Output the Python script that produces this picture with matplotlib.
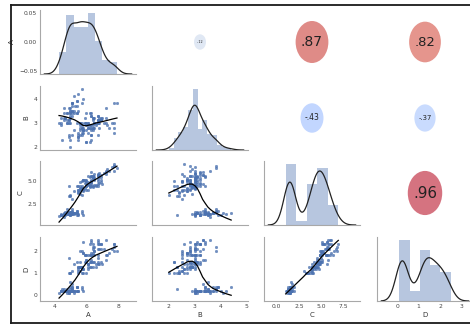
import numpy as np
import matplotlib
matplotlib.use("Agg")
import matplotlib.pyplot as plt
from matplotlib.patches import Ellipse
from matplotlib.lines import Line2D

# ---- data (four measured variables, 150 observations) ----
A = [5.1,4.9,4.7,4.6,5.0,5.4,4.6,5.0,4.4,4.9,5.4,4.8,4.8,4.3,5.8,5.7,5.4,5.1,5.7,5.1,
     5.4,5.1,4.6,5.1,4.8,5.0,5.0,5.2,5.2,4.7,4.8,5.4,5.2,5.5,4.9,5.0,5.5,4.9,4.4,5.1,
     5.0,4.5,4.4,5.0,5.1,4.8,5.1,4.6,5.3,5.0,
     7.0,6.4,6.9,5.5,6.5,5.7,6.3,4.9,6.6,5.2,5.0,5.9,6.0,6.1,5.6,6.7,5.6,5.8,6.2,5.6,
     5.9,6.1,6.3,6.1,6.4,6.6,6.8,6.7,6.0,5.7,5.5,5.5,5.8,6.0,5.4,6.0,6.7,6.3,5.6,5.5,
     5.5,6.1,5.8,5.0,5.6,5.7,5.7,6.2,5.1,5.7,
     6.3,5.8,7.1,6.3,6.5,7.6,4.9,7.3,6.7,7.2,6.5,6.4,6.8,5.7,5.8,6.4,6.5,7.7,7.7,6.0,
     6.9,5.6,7.7,6.3,6.7,7.2,6.2,6.1,6.4,7.2,7.4,7.9,6.4,6.3,6.1,7.7,6.3,6.4,6.0,6.9,
     6.7,6.9,5.8,6.8,6.7,6.7,6.3,6.5,6.2,5.9]
B = [3.5,3.0,3.2,3.1,3.6,3.9,3.4,3.4,2.9,3.1,3.7,3.4,3.0,3.0,4.0,4.4,3.9,3.5,3.8,3.8,
     3.4,3.7,3.6,3.3,3.4,3.0,3.4,3.5,3.4,3.2,3.1,3.4,4.1,4.2,3.1,3.2,3.5,3.6,3.0,3.4,
     3.5,2.3,3.2,3.5,3.8,3.0,3.8,3.2,3.7,3.3,
     3.2,3.2,3.1,2.3,2.8,2.8,3.3,2.4,2.9,2.7,2.0,3.0,2.2,2.9,2.9,3.1,3.0,2.7,2.2,2.5,
     3.2,2.8,2.5,2.8,2.9,3.0,2.8,3.0,2.9,2.6,2.4,2.4,2.7,2.7,3.0,3.4,3.1,2.3,3.0,2.5,
     2.6,3.0,2.6,2.3,2.7,3.0,2.9,2.9,2.5,2.8,
     3.3,2.7,3.0,2.9,3.0,3.0,2.5,2.9,2.5,3.6,3.2,2.7,3.0,2.5,2.8,3.2,3.0,3.8,2.6,2.2,
     3.2,2.8,2.8,2.7,3.3,3.2,2.8,3.0,2.8,3.0,2.8,3.8,2.8,2.8,2.6,3.0,3.4,3.1,3.0,3.1,
     3.1,3.1,2.7,3.2,3.3,3.0,2.5,3.0,3.4,3.0]
C = [1.4,1.4,1.3,1.5,1.4,1.7,1.4,1.5,1.4,1.5,1.5,1.6,1.4,1.1,1.2,1.5,1.3,1.4,1.7,1.5,
     1.7,1.5,1.0,1.7,1.9,1.6,1.6,1.5,1.4,1.6,1.6,1.5,1.5,1.4,1.5,1.2,1.3,1.4,1.3,1.5,
     1.3,1.3,1.3,1.6,1.9,1.4,1.6,1.4,1.5,1.4,
     4.7,4.5,4.9,4.0,4.6,4.5,4.7,3.3,4.6,3.9,3.5,4.2,4.0,4.7,3.6,4.4,4.5,4.1,4.5,3.9,
     4.8,4.0,4.9,4.7,4.3,4.4,4.8,5.0,4.5,3.5,3.8,3.7,3.9,5.1,4.5,4.5,4.7,4.4,4.1,4.0,
     4.4,4.6,4.0,3.3,4.2,4.2,4.2,4.3,3.0,4.1,
     6.0,5.1,5.9,5.6,5.8,6.6,4.5,6.3,5.8,6.1,5.1,5.3,5.5,5.0,5.1,5.3,5.5,6.7,6.9,5.0,
     5.7,4.9,6.7,4.9,5.7,6.0,4.8,4.9,5.6,5.8,6.1,6.4,5.6,5.1,5.6,6.1,5.6,5.5,4.8,5.4,
     5.6,5.1,5.1,5.9,5.7,5.2,5.0,5.2,5.4,5.1]
D = [0.2,0.2,0.2,0.2,0.2,0.4,0.3,0.2,0.2,0.1,0.2,0.2,0.1,0.1,0.2,0.4,0.4,0.3,0.3,0.3,
     0.2,0.4,0.2,0.5,0.2,0.2,0.4,0.2,0.2,0.2,0.2,0.4,0.1,0.2,0.2,0.2,0.2,0.1,0.2,0.2,
     0.3,0.3,0.2,0.6,0.4,0.3,0.2,0.2,0.2,0.2,
     1.4,1.5,1.5,1.3,1.5,1.3,1.6,1.0,1.3,1.4,1.0,1.5,1.0,1.4,1.3,1.4,1.5,1.0,1.5,1.1,
     1.8,1.3,1.5,1.2,1.3,1.4,1.4,1.7,1.5,1.0,1.1,1.0,1.2,1.6,1.5,1.6,1.5,1.3,1.3,1.3,
     1.2,1.4,1.2,1.0,1.3,1.2,1.3,1.3,1.1,1.3,
     2.5,1.9,2.1,1.8,2.2,2.1,1.7,1.8,1.8,2.5,2.0,1.9,2.1,2.0,2.4,2.3,1.8,2.2,2.3,1.5,
     2.3,2.0,2.0,1.8,2.1,1.8,1.8,1.8,2.1,1.6,1.9,2.0,2.2,1.5,1.4,2.3,2.4,1.8,1.8,2.1,
     2.4,2.3,1.9,2.3,2.5,2.3,1.9,2.0,2.3,1.8]
var_names = ["A", "B", "C", "D"]
x_ticks = [[4, 6, 8], [2, 3, 4, 5], [0, 2.5, 5, 7.5], [0, 1, 2, 3]]
y_ticks = [[-0.05, 0.0, 0.05], [2, 3, 4], [2.5, 5.0], [0, 1, 2]]

plt.rcParams['font.family'] = ['Liberation Sans Narrow', 'DejaVu Sans']
BLUE = "#4C72B0"
SPINE = "#a8a8a8"


def lowess(x, y, frac=2 / 3, it=3):
    order = np.argsort(x, kind="mergesort")
    x = np.asarray(x, float)[order]
    y = np.asarray(y, float)[order]
    n = len(x)
    r = int(np.ceil(frac * n))
    rob = np.ones(n)
    fit = np.zeros(n)
    for _ in range(it + 1):
        for i in range(n):
            dist = np.abs(x - x[i])
            h = np.sort(dist)[r - 1]
            if h <= 0:
                h = 1e-12
            u = np.clip(dist / h, 0, 1)
            w = (1 - u ** 3) ** 3 * rob
            sw = w.sum()
            mx = (w * x).sum() / sw
            my = (w * y).sum() / sw
            vx = (w * (x - mx) ** 2).sum()
            if vx > 1e-12:
                b = (w * (x - mx) * (y - my)).sum() / vx
            else:
                b = 0.0
            fit[i] = my + b * (x[i] - mx)
        res = y - fit
        s = np.median(np.abs(res))
        if s <= 0:
            break
        q = np.clip(res / (6 * s), -1, 1)
        rob = (1 - q ** 2) ** 2
    return x, fit


def fd_bins(a):
    iqr = np.subtract(*np.percentile(a, [75, 25]))
    h = 2 * iqr / len(a) ** (1 / 3)
    return min(int(np.ceil((a.max() - a.min()) / h)), 50)


def kde(a, cut=3, gridsize=100):
    bw = len(a) ** (-1 / 5) * a.std(ddof=1)
    grid = np.linspace(a.min() - cut * bw, a.max() + cut * bw, gridsize)
    dens = np.exp(-0.5 * ((grid[:, None] - a[None, :]) / bw) ** 2).sum(1)
    dens /= len(a) * bw * np.sqrt(2 * np.pi)
    return grid, dens


data = [np.array(A), np.array(B), np.array(C), np.array(D)]

W, H = 470, 326
fig = plt.figure(figsize=(W / 100, H / 100), dpi=100)
lefts = [40, 152, 264, 377]
tops = [10, 86, 161, 237]
aw, ah = 96, 64

axes = [[None] * 4 for _ in range(4)]
for i in range(4):
    for j in range(4):
        rect = [lefts[j] / W, 1 - (tops[i] + ah) / H, aw / W, ah / H]
        kw = {}
        if i > 0:
            kw["sharex"] = axes[0][j]
        if j > 0:
            kw["sharey"] = axes[i][0]
        axes[i][j] = fig.add_axes(rect, **kw)

for i in range(4):
    for j in range(4):
        ax = axes[i][j]
        ax.set_facecolor("white")
        for sp in ("top", "right"):
            ax.spines[sp].set_visible(False)
        for sp in ("left", "bottom"):
            ax.spines[sp].set_color(SPINE)
            ax.spines[sp].set_linewidth(0.8)
        ax.tick_params(length=0, labelsize=4.3, colors="#444444", pad=2)
        if i > j:
            x, y = data[j], data[i]
            ax.scatter(x, y, s=3.5, color=BLUE, alpha=0.8, linewidths=0.3,
                       edgecolors=BLUE, zorder=2)
            lx, ly = lowess(x, y)
            ax.plot(lx, ly, color="black", lw=0.9, zorder=3)
        elif i == j:
            a = data[i]
            tw = ax.twinx()
            tw.hist(a, bins=fd_bins(a), density=True, color=BLUE, alpha=0.4)
            g, d = kde(a)
            tw.plot(g, d, color="#222222", lw=0.9)
            tw.set_yticks([])
            for sp in tw.spines.values():
                sp.set_visible(False)
            tw.set_ylim(bottom=0)
        else:
            ax.set_axis_off()
            r = np.corrcoef(data[j], data[i])[0, 1]
            hpx = 45 * np.sqrt(abs(r))
            wpx = 0.78 * hpx
            col = plt.cm.coolwarm((r + 1) / 2)
            ax.add_patch(Ellipse((0.5, 0.5), wpx / aw, hpx / ah,
                                 transform=ax.transAxes, facecolor=col,
                                 alpha=0.6, edgecolor="none"))
            txt = f"{r:2.2f}".replace("0.", ".")
            ax.text(0.5, 0.5, txt, transform=ax.transAxes, ha="center",
                    va="center", fontsize=0.25 * (abs(r) * 40 + 5),
                    color="#222222")

axes[0][0].set_ylim(-0.055, 0.055)
for i in range(4):
    axes[i][0].set_yticks(y_ticks[i])
    axes[i][0].set_ylabel(var_names[i], fontsize=5, color="#333333", labelpad=3)
for j in range(4):
    axes[3][j].set_xticks(x_ticks[j])
    axes[3][j].set_xlabel(var_names[j], fontsize=5, color="#333333", labelpad=2)
for i in range(4):
    for j in range(4):
        ax = axes[i][j]
        if i < 3:
            ax.tick_params(labelbottom=False)
        if j > 0:
            ax.tick_params(labelleft=False)

# screenshot frame
def fx(p):
    return p / W


def fy(p):
    return 1 - p / H


fig.add_artist(Line2D([fx(11), fx(11)], [fy(5), fy(323)], color="#1a1a1a", lw=1.3))
fig.add_artist(Line2D([fx(11), fx(470)], [fy(5), fy(5)], color="#1a1a1a", lw=1.3))
fig.add_artist(Line2D([fx(11), fx(470)], [fy(323), fy(323)], color="#1a1a1a", lw=1.3))

fig.savefig("out.png", dpi=100, facecolor="white")
